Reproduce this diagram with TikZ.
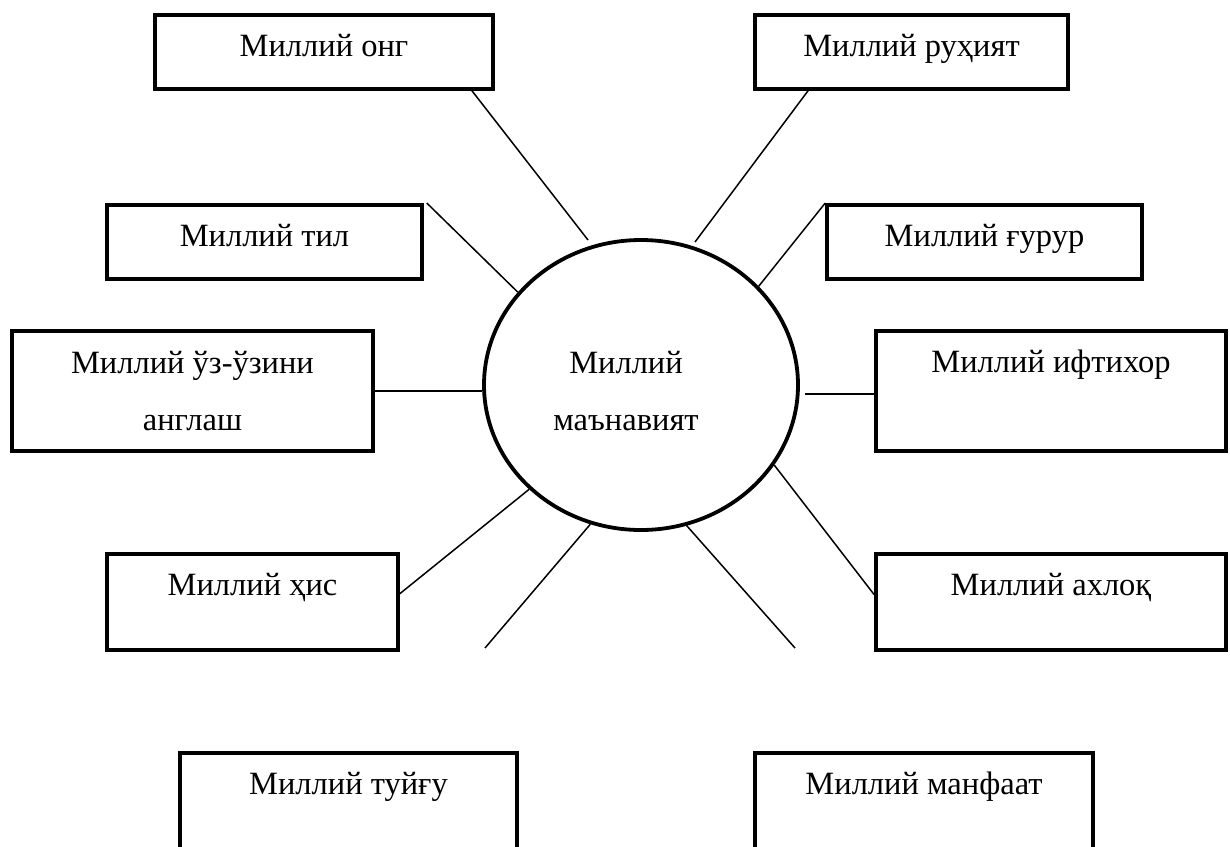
\documentclass[tikz,border=0pt]{standalone}
\usepackage{fontspec}
\setmainfont{Liberation Serif}
\usetikzlibrary{shapes.geometric,calc}

\begin{document}
\begin{tikzpicture}[x=1pt,y=-1pt,
  font=\fontsize{32.5}{57}\selectfont,
  bx/.style 2 args={draw,line width=3.5pt,inner sep=0pt,anchor=north,
    minimum width=#1,text height=42pt,text depth=#2},
  ln/.style={line width=1.5pt}]
\fill[white] (0,0) rectangle (1230,846);
\clip (0,0) rectangle (1230,846);
% centre
\node[ellipse,draw,line width=3.8pt,inner sep=0pt,
  minimum width=314pt,minimum height=290pt] (core) at (641,385) {};
% boxes, top row to bottom row
\node[bx={338pt}{32pt}] (ong) at (324,13) {Миллий онг};
\node[bx={313pt}{32pt}] (ruh) at (911.5,13) {Миллий руҳият};
\node[bx={315pt}{32pt}] (til) at (264.5,203) {Миллий тил};
\node[bx={315pt}{32pt}] (gur) at (984.5,203) {Миллий ғурур};
\node[draw,line width=3.5pt,inner sep=0pt,anchor=north,align=center,
  minimum width=361pt,minimum height=120pt] (uz) at (192.5,329) {Миллий ўз-ўзини\\англаш};
\node[bx={350pt}{78pt}] (ift) at (1051,329) {Миллий ифтихор};
\node[bx={291pt}{54pt}] (his) at (252.5,552) {Миллий ҳис};
\node[bx={350pt}{54pt}] (axl) at (1051,552) {Миллий ахлоқ};
\node[bx={337pt}{78pt}] (tuy) at (348.5,751) {Миллий туйғу};
\node[bx={338pt}{78pt}] (man) at (924,751) {Миллий манфаат};
% text of the centre, on the rows of the left box
\node[align=center] (coretxt) at ([xshift=-15pt]uz.center -| core.center) {Миллий\\маънавият};
% loose ends of the spokes
\coordinate (ongEnd) at (588,240);
\coordinate (ruhEnd) at (695,242);
\coordinate (iftEnd) at (805,394);
\coordinate (tuyEnd) at (485,648);
\coordinate (manEnd) at (795,648);
% spokes
\draw[ln] ([xshift=-23pt]ong.south east) -- (ongEnd);
\draw[ln] ([xshift=55pt]ruh.south west) -- (ruhEnd);
\draw[ln] ([xshift=3pt]til.north east) -- (core.143);
\draw[ln] (gur.north west) -- (core.40);
\draw[ln] (uz.east) -- (uz.east -| core.west);
\draw[ln] (iftEnd) -- (iftEnd -| ift.west);
\draw[ln] ([yshift=8pt]his.east) -- (core.223);
\draw[ln] (core.329) -- ([yshift=7pt]axl.west);
\draw[ln] (core.250) -- (tuyEnd);
\draw[ln] (core.288) -- (manEnd);
\end{tikzpicture}
\end{document}
